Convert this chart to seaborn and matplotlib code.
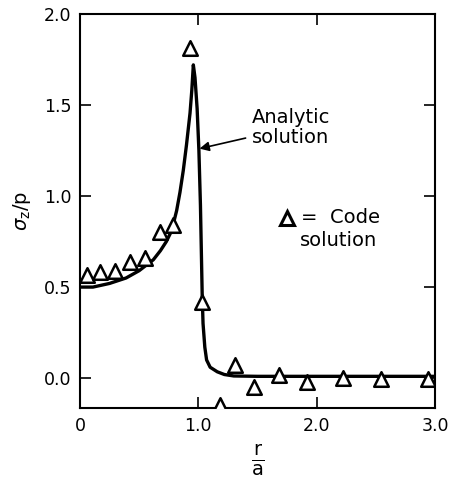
import numpy as np
import pandas as pd
import matplotlib
matplotlib.use("Agg")
import matplotlib.pyplot as plt
import seaborn as sns

# analytic curve
r_analytic = [0.0, 0.11, 0.25, 0.39, 0.50, 0.56, 0.62, 0.68, 0.73, 0.775, 0.817, 0.845, 0.873,
              0.90, 0.93, 0.945, 0.958, 0.972, 0.99, 1.005, 1.018, 1.027, 1.033, 1.04, 1.055,
              1.07, 1.10, 1.16, 1.22, 1.30, 1.50, 2.0, 2.5, 3.0]
s_analytic = [0.50, 0.50, 0.52, 0.55, 0.59, 0.62, 0.65, 0.70, 0.75, 0.81, 0.92, 1.02, 1.14,
              1.28, 1.455, 1.58, 1.72, 1.65, 1.48, 1.25, 0.95, 0.65, 0.45, 0.30, 0.17,
              0.10, 0.06, 0.035, 0.02, 0.012, 0.01, 0.01, 0.01, 0.01]

# code solution points
r_code = [0.06, 0.17, 0.30, 0.42, 0.55, 0.68, 0.79, 0.93, 1.03, 1.18, 1.31, 1.47, 1.68, 1.92, 2.22, 2.54, 2.94]
s_code = [0.565, 0.585, 0.59, 0.64, 0.66, 0.80, 0.84, 1.81, 0.42, -0.15, 0.07, -0.05, 0.016, -0.02, 0.0, -0.007, -0.007]

x_ticks = [0, 1, 2, 3]
x_labels = ["0", "1.0", "2.0", "3.0"]
y_ticks = [0.0, 0.5, 1.0, 1.5, 2.0]
y_labels = ["0.0", "0.5", "1.0", "1.5", "2.0"]

sns.set_theme(style="ticks")
plt.rcParams["font.family"] = ["DejaVu Sans"]
plt.rcParams["mathtext.fontset"] = "dejavusans"
plt.rcParams["text.color"] = "black"
plt.rcParams["axes.labelcolor"] = "black"

fig = plt.figure(figsize=(4.49, 4.78), dpi=100)
ax = fig.add_axes([0.178, 0.146, 0.791, 0.825])

curve = pd.DataFrame({"r": r_analytic, "s": s_analytic})
code = pd.DataFrame({"r": r_code, "s": s_code})

sns.lineplot(data=curve, x="r", y="s", ax=ax, color="black", lw=2.4, sort=False)
sns.scatterplot(data=code, x="r", y="s", ax=ax, marker="^", s=110,
                facecolor="white", edgecolor="black", linewidth=1.8, zorder=5)

ax.set_xlim(0, 3.0)
ax.set_ylim(-0.165, 2.0)
ax.set_xticks(x_ticks, x_labels)
ax.set_yticks(y_ticks, y_labels)
ax.tick_params(direction="in", length=8, width=1.2, top=True, right=True,
               labelsize=12.5, colors="black", pad=6)
for sp in ax.spines.values():
    sp.set_visible(True)
    sp.set_linewidth(1.5)
    sp.set_color("black")

ax.set_xlabel(r"$\frac{\mathrm{r}}{\mathrm{a}}$", fontsize=20, labelpad=6, color="black")
ax.set_ylabel(r"$\sigma_\mathrm{z}$/p", fontsize=14, labelpad=8, color="black")

ax.annotate("Analytic\nsolution", xy=(1.01, 1.26), xytext=(1.45, 1.375),
            fontsize=14, ha="left", va="center", linespacing=1.05, color="black",
            arrowprops=dict(arrowstyle="-|>", color="black", lw=1.2,
                            shrinkA=2, shrinkB=0, mutation_scale=14))
ax.plot([1.75], [0.88], marker="^", ms=10, mfc="white", mec="black", mew=2.2, ls="")
ax.text(1.87, 0.88, "=  Code", fontsize=14, ha="left", va="center", color="black")
ax.text(1.855, 0.755, "solution", fontsize=14, ha="left", va="center", color="black")

fig.savefig("out.png", dpi=100)
